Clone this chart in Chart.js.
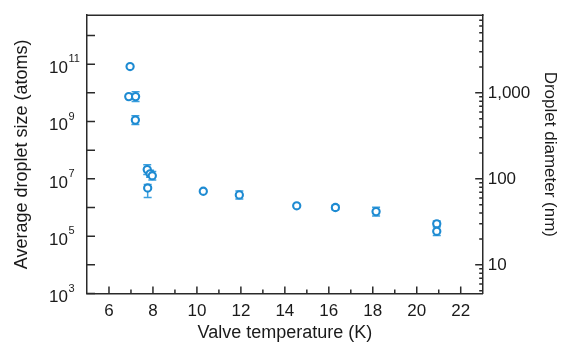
<!DOCTYPE html>
<html>
<head>
<meta charset="utf-8">
<script src="https://cdn.jsdelivr.net/npm/chart.js@4"></script>
<style>
  html, body { margin: 0; padding: 0; background: #fff; }
  #wrap { width: 561px; height: 345px; position: relative; }
</style>
</head>
<body>
<div id="wrap"><canvas id="chart"></canvas></div>
<script>
'use strict';

// valve temperature (K) and average droplet size (atoms)
let temps = [6.96, 6.90, 7.21, 7.20, 7.74, 7.87, 7.97, 7.76, 10.29, 11.93, 14.54, 16.30, 18.15, 20.91, 20.91];
let sizes = [8.3e10, 7.4e9, 7.4e9, 1.12e9, 2.1e7, 1.5e7, 1.29e7, 4.8e6, 3.7e6, 2.75e6, 1.15e6, 1.0e6, 7.2e5, 2.7e5, 1.48e5];
// error bar ends (null = no bar)
let sizeLow = [null, null, 5.0e9, 7.9e8, 1.42e7, 1.14e7, 9.1e6, 2.24e6, null, 2.0e6, null, 8.3e5, 5.1e5, 2.15e5, 1.05e5];
let sizeHigh = [null, null, 1.09e10, 1.58e9, 3.1e7, 1.98e7, 1.82e7, 6.3e6, null, 3.8e6, null, 1.2e6, 1.02e6, 3.4e5, 2.1e5];

let xTicks = [6, 8, 10, 12, 14, 16, 18, 20, 22];
let xMinorTicks = [7, 9, 11, 13, 15, 17, 19, 21];
let atomExps = [3, 4, 5, 6, 7, 8, 9, 10, 11, 12];
let atomLabelExps = [3, 5, 7, 9, 11];
let diamTicks = [5, 6, 7, 8, 9, 10, 20, 30, 40, 50, 60, 70, 80, 90,
    100, 200, 300, 400, 500, 600, 700, 800, 900,
    1000, 2000, 3000, 4000, 5000, 6000, 7000, 8000];
let diamLabels = [10, 100, 1000];

let fontFam = '"Liberation Sans", Arial, Helvetica, sans-serif';
let blue = '#1e8bd2';
let frameColor = '#2a2a2a';

let points = [];
for (let i = 0; i < temps.length; i++) {
    points.push({x: temps[i], y: sizes[i]});
}

// tick marks point inward, top frame line, left labels with superscripts
let framePlugin = {
    id: 'framePlugin',
    afterDraw(chart) {
        let ctx = chart.ctx;
        let area = chart.chartArea;
        let xs = chart.scales.x;
        let ys = chart.scales.y;
        let y2 = chart.scales.y2;
        ctx.save();
        ctx.strokeStyle = frameColor;
        ctx.lineWidth = 1.5;
        ctx.beginPath();
        ctx.moveTo(area.left - 0.75, area.top);
        ctx.lineTo(area.right + 0.75, area.top);
        for (let i = 0; i < xTicks.length; i++) {
            let px = xs.getPixelForValue(xTicks[i]);
            ctx.moveTo(px, area.bottom);
            ctx.lineTo(px, area.bottom - 7);
        }
        for (let i = 0; i < xMinorTicks.length; i++) {
            let px = xs.getPixelForValue(xMinorTicks[i]);
            ctx.moveTo(px, area.bottom);
            ctx.lineTo(px, area.bottom - 4);
        }
        for (let i = 0; i < atomExps.length; i++) {
            let py = ys.getPixelForValue(Math.pow(10, atomExps[i]));
            ctx.moveTo(area.left, py);
            ctx.lineTo(area.left + 8, py);
        }
        for (let i = 0; i < diamTicks.length; i++) {
            let py = y2.getPixelForValue(diamTicks[i]);
            let len = diamLabels.includes(diamTicks[i]) ? 7.5 : 3.5;
            ctx.moveTo(area.right, py);
            ctx.lineTo(area.right - len, py);
        }
        ctx.stroke();

        ctx.fillStyle = '#1a1a1a';
        for (let i = 0; i < atomLabelExps.length; i++) {
            let py = ys.getPixelForValue(Math.pow(10, atomLabelExps[i]));
            ctx.font = '17px ' + fontFam;
            ctx.textAlign = 'right';
            ctx.textBaseline = 'middle';
            ctx.fillText('10', 68, py + 4);
            ctx.font = '11px ' + fontFam;
            ctx.textAlign = 'left';
            ctx.fillText(String(atomLabelExps[i]), 68.5, py - 5);
        }
        ctx.restore();
    }
};

let errorBarPlugin = {
    id: 'errorBarPlugin',
    beforeDatasetsDraw(chart) {
        let ctx = chart.ctx;
        let xs = chart.scales.x;
        let ys = chart.scales.y;
        ctx.save();
        ctx.strokeStyle = '#3a9fde';
        ctx.lineWidth = 1.5;
        ctx.beginPath();
        for (let i = 0; i < temps.length; i++) {
            if (sizeLow[i] === null) continue;
            let px = xs.getPixelForValue(temps[i]);
            let lo = ys.getPixelForValue(sizeLow[i]);
            let hi = ys.getPixelForValue(sizeHigh[i]);
            ctx.moveTo(px, lo);
            ctx.lineTo(px, hi);
            ctx.moveTo(px - 4, lo);
            ctx.lineTo(px + 4, lo);
            ctx.moveTo(px - 4, hi);
            ctx.lineTo(px + 4, hi);
        }
        ctx.stroke();
        ctx.restore();
    }
};

let ctx = document.getElementById('chart').getContext('2d');
let dropletChart = new Chart(ctx, {
    type: 'scatter',
    data: {
        datasets: [{
            label: 'Droplet size',
            data: points,
            yAxisID: 'y',
            pointStyle: 'circle',
            pointRadius: 3.6,
            pointBorderWidth: 2.1,
            pointBorderColor: blue,
            pointBackgroundColor: '#ffffff',
            showLine: false
        }]
    },
    options: {
        responsive: true,
        maintainAspectRatio: false,
        animation: false,
        layout: { padding: { top: 15, left: 0, right: 0, bottom: 0 } },
        plugins: {
            legend: { display: false },
            tooltip: { enabled: false }
        },
        scales: {
            x: {
                type: 'linear',
                min: 5,
                max: 23,
                afterBuildTicks(scale) {
                    scale.ticks = xTicks.map(v => ({value: v}));
                },
                afterFit(scale) { scale.height = 51.5; },
                grid: { display: false, drawTicks: false },
                border: { display: true, color: frameColor, width: 1.5 },
                ticks: {
                    autoSkip: false,
                    maxRotation: 0,
                    padding: 8,
                    color: '#1a1a1a',
                    font: { family: fontFam, size: 17 }
                },
                title: {
                    display: true,
                    text: 'Valve temperature (K)',
                    color: '#1a1a1a',
                    padding: { top: 0, bottom: 1 },
                    font: { family: fontFam, size: 18 }
                }
            },
            y: {
                type: 'logarithmic',
                position: 'left',
                min: 1e3,
                max: Math.pow(10, 12.71),
                afterFit(scale) { scale.width = 87; },
                grid: { display: false, drawTicks: false },
                border: { display: true, color: frameColor, width: 1.5 },
                ticks: { display: false },
                title: {
                    display: true,
                    text: 'Average droplet size (atoms)',
                    color: '#1a1a1a',
                    padding: { top: 11, bottom: 0 },
                    font: { family: fontFam, size: 18 }
                }
            },
            y2: {
                type: 'logarithmic',
                position: 'right',
                display: true,
                min: Math.pow(10, 2 / 3),
                max: Math.pow(10, 3.903),
                afterBuildTicks(scale) {
                    scale.ticks = diamTicks.map(v => ({value: v}));
                },
                afterFit(scale) { scale.width = 78.3; },
                grid: { display: false, drawTicks: false },
                border: { display: true, color: frameColor, width: 1.5 },
                ticks: {
                    autoSkip: false,
                    padding: 5,
                    color: '#1a1a1a',
                    font: { family: fontFam, size: 17 },
                    callback: function (value) {
                        if (diamLabels.includes(value)) {
                            return value.toLocaleString('en-US');
                        }
                        return '';
                    }
                },
                title: {
                    display: true,
                    text: 'Droplet diameter (nm)',
                    color: '#1a1a1a',
                    padding: { top: 1, bottom: 0 },
                    font: { family: fontFam, size: 17 }
                }
            }
        }
    },
    plugins: [errorBarPlugin, framePlugin]
});
</script>
</body>
</html>
